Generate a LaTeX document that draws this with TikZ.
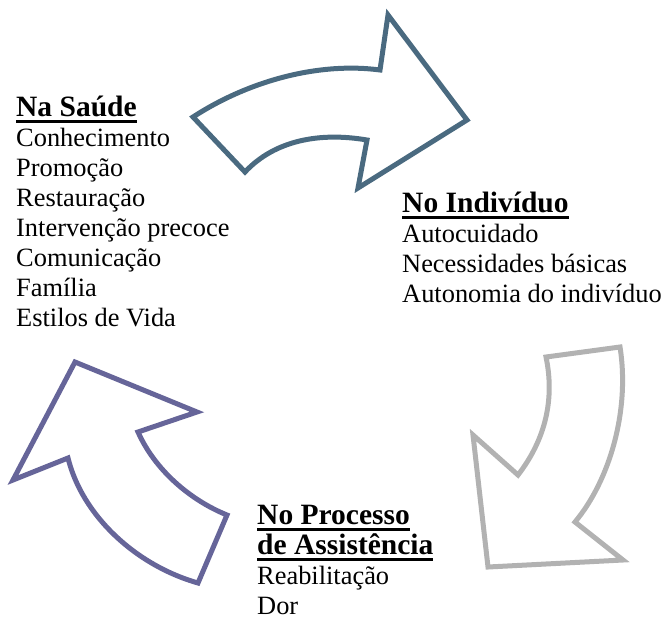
\documentclass[tikz,border=0pt]{standalone}
\usepackage{fontspec}
\setmainfont{Liberation Serif}
\definecolor{steelarrow}{RGB}{74,106,128}
\definecolor{greyarrow}{RGB}{178,178,178}
\definecolor{purplearrow}{RGB}{102,101,153}
\newcommand{\hd}[1]{\setbox0=\hbox{\fontsize{29.5}{30}\selectfont\bfseries #1}\rlap{\rule[-6.5pt]{\wd0}{2.4pt}}\box0}
\begin{document}
\begin{tikzpicture}[x=1pt,y=-1pt,
	arrowline/.style={line width=5pt,line join=miter},
	txt/.style={anchor=base west,inner sep=0pt,align=left,
		font=\fontsize{26.4}{30}\selectfont}]
	\useasboundingbox (0,0) rectangle (663,621);
	
	% top arrow
	\draw[arrowline][steelarrow](193,117) .. controls (250,80) and (320,62) .. (380,70)
	--(388,15)--(467,120)--(358,188)--(367,140)
	.. controls (320,132) and (275,140) .. (245,172)--cycle;
	% right arrow
	\draw[arrowline][greyarrow](620,347)--(546,357) .. controls (555,400) and (545,440) .. (518,475)
	--(473,435)--(488,567)--(623,560)--(575,522)
	.. controls (610,480) and (630,410) .. (620,347)--cycle;
	% left arrow
	\draw[arrowline][purplearrow](198,583)--(227,515) .. controls (190,500) and (155,470) .. (138,432)
	--(197,412)--(75,362)--(13,480)--(68,458)
	.. controls (82,515) and (135,565) .. (198,583)--cycle;
	
	% anchors sit on the last baseline of each block
	\node[txt] (saude) at (16,326) {\hd{Na Saúde}\\Conhecimento\\Promoção\\Restauração\\
		Intervenção precoce\\Comunicação\\Família\\Estilos de Vida};
	\node[txt] (individuo) at (402,302) {\hd{No Indivíduo}\\Autocuidado\\
		Necessidades básicas\\Autonomia do indivíduo};
	\node[txt] (processo) at (257,614) {\hd{No Processo}\\\hd{de Assistência}\\
		Reabilitação\\Dor};
\end{tikzpicture}
\end{document}
